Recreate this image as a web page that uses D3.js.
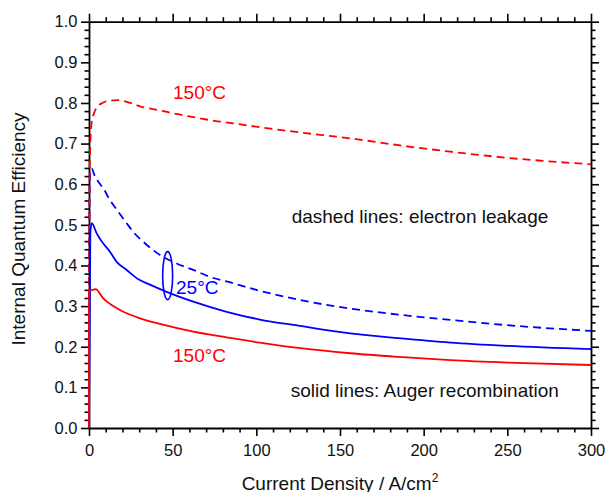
<!DOCTYPE html>
<html>
<head>
    <title>Internal Quantum Efficiency vs Current Density</title>
    <script src="https://d3js.org/d3.v7.min.js"></script>
    <style>
        html, body {
            margin: 0;
            background: #fff;
            overflow: hidden;
        }
        text {
            font-family: "Liberation Sans", Arial, sans-serif;
        }
    </style>
</head>
<body>
    <div id="chart"></div>

    <script>
        // Tick values
        const xMajor = [0, 50, 100, 150, 200, 250, 300];
        const yMajor = [0.0, 0.1, 0.2, 0.3, 0.4, 0.5, 0.6, 0.7, 0.8, 0.9, 1.0];

        // Curves: [current density, IQE]
        const leak150 = [[0, 0], [0.3, 0.6], [0.8, 0.70], [1.5, 0.75], [3, 0.775], [5, 0.79], [8, 0.80],
            [12, 0.805], [17, 0.807], [24, 0.801], [32, 0.79], [42, 0.782], [52, 0.773], [64, 0.764],
            [75, 0.756], [86, 0.75], [96, 0.744], [125, 0.728], [156, 0.713], [185, 0.696],
            [216, 0.68], [250, 0.665], [300, 0.649]];
        const leak25 = [[0, 0], [0.4, 0.6], [1, 0.635], [1.6, 0.639], [3, 0.625], [5.6, 0.606],
            [8.5, 0.59], [12.5, 0.561], [17, 0.535], [22.5, 0.504], [27, 0.48], [32.5, 0.458],
            [42.4, 0.426], [52.4, 0.405], [62.3, 0.389], [72.3, 0.372], [86.3, 0.356], [100, 0.34],
            [125, 0.316], [156, 0.294], [185, 0.279], [216, 0.266], [250, 0.253], [300, 0.239]];
        const auger25 = [[0, 0], [0.8, 0.48], [1.6, 0.504], [4.6, 0.479], [8.5, 0.454], [12.5, 0.434],
            [16.5, 0.409], [22.5, 0.389], [29.5, 0.366], [36.4, 0.353], [46.4, 0.335], [62.3, 0.311],
            [82.3, 0.286], [102, 0.267], [125, 0.252], [156, 0.233], [185, 0.221], [216, 0.21],
            [250, 0.202], [300, 0.194]];
        const auger150 = [[0, 0], [0.1, 0.338], [2, 0.34], [4, 0.342], [8.5, 0.319], [14.5, 0.3],
            [20.5, 0.286], [30.5, 0.27], [42.4, 0.256], [62.3, 0.237], [82.3, 0.223], [102, 0.21],
            [125, 0.197], [156, 0.184], [185, 0.175], [216, 0.167], [250, 0.161], [300, 0.155]];

        const W = 605, H = 492;
        const margin = {top: 21.7, right: 14, bottom: 64, left: 89};
        const width = W - margin.left - margin.right;
        const height = H - margin.top - margin.bottom;

        const svg = d3.select("#chart")
            .append("svg")
            .attr("width", W)
            .attr("height", H);

        const g = svg.append("g")
            .attr("transform", `translate(${margin.left},${margin.top})`);

        const x = d3.scaleLinear().domain([0, 300]).range([0, width]);
        const y = d3.scaleLinear().domain([0, 1]).range([height, 0]);

        const xMinor = d3.range(0, 301, 10).filter(v => v % 50 !== 0);
        const yMinor = d3.range(0, 51, 1).map(v => v / 50).filter((v, i) => i % 5 !== 0);

        // axes: major + minor ticks, all pointing outwards
        function addAxis(axisFn, scale, major, minor, transform, labels) {
            const a = g.append("g").attr("class", "axis").attr("transform", transform);
            a.call(axisFn(scale).tickValues(major).tickSize(8).tickSizeOuter(0)
                .tickFormat(labels ? labels : () => ""));
            const m = g.append("g").attr("transform", transform);
            m.call(axisFn(scale).tickValues(minor).tickSize(4.5).tickSizeOuter(0).tickFormat(() => ""));
            m.select(".domain").remove();
            [a, m].forEach(s => {
                s.selectAll("line").attr("stroke", "#000").attr("stroke-width", 1.6);
                s.selectAll(".domain").attr("stroke", "#000").attr("stroke-width", 1.8);
            });
            return a;
        }

        const ax = addAxis(d3.axisBottom, x, xMajor, xMinor, `translate(0,${height})`, d3.format("d"));
        ax.selectAll("text").attr("font-size", 16.5).attr("fill", "#111").attr("dy", "1.05em");
        const ay = addAxis(d3.axisLeft, y, yMajor, yMinor, null, d3.format(".1f"));
        ay.selectAll("text").attr("font-size", 16.5).attr("fill", "#111").attr("x", -11.5);
        addAxis(d3.axisTop, x, xMajor, xMinor, null, null);
        addAxis(d3.axisRight, y, yMajor, yMinor, `translate(${width},0)`, null);

        // curves
        const line = d3.line().x(d => x(d[0])).y(d => y(d[1])).curve(d3.curveMonotoneX);
        const series = [
            {data: leak25, color: "#0000ff", dash: "8,5"},
            {data: leak150, color: "#ff0000", dash: "8,5"},
            {data: auger25, color: "#0000ff", dash: null},
            {data: auger150, color: "#ff0000", dash: null}
        ];
        g.selectAll(".curve")
            .data(series)
            .join("path")
            .attr("class", "curve")
            .attr("fill", "none")
            .attr("stroke", d => d.color)
            .attr("stroke-width", 1.8)
            .attr("stroke-dasharray", d => d.dash)
            .attr("d", d => line(d.data));

        // annotations
        function degLabel(xv, yv, num, color) {
            const t = g.append("text")
                .attr("x", x(xv)).attr("y", y(yv))
                .attr("font-size", 19).attr("fill", color);
            t.append("tspan").text(num + "°");
            t.append("tspan").text("C");
        }
        degLabel(50.2, 0.809, "150", "#ff0000");
        degLabel(52, 0.33, "25", "#0000ff");
        degLabel(50.2, 0.162, "150", "#ff0000");

        g.append("text")
            .attr("x", x(121.1)).attr("y", y(0.504))
            .attr("font-size", 19).attr("fill", "#111")
            .text("dashed lines: electron leakage");
        g.append("text")
            .attr("x", x(120.5)).attr("y", y(0.077))
            .attr("font-size", 19).attr("fill", "#111")
            .text("solid lines: Auger recombination");

        g.append("ellipse")
            .attr("cx", x(47)).attr("cy", y(0.375))
            .attr("rx", 5).attr("ry", 24)
            .attr("fill", "none")
            .attr("stroke", "#0000ff")
            .attr("stroke-width", 1.6);

        // axis titles
        const xt = svg.append("text")
            .attr("x", margin.left + width / 2)
            .attr("y", 489.5)
            .attr("text-anchor", "middle")
            .attr("font-size", 19).attr("fill", "#111");
        xt.append("tspan").text("Current Density / A/cm");
        xt.append("tspan").attr("font-size", 12).attr("dy", -8).text("2");

        svg.append("text")
            .attr("transform", `translate(25,229) rotate(-90)`)
            .attr("text-anchor", "middle")
            .attr("font-size", 19).attr("fill", "#111")
            .text("Internal Quantum Efficiency");
    </script>
</body>
</html>
